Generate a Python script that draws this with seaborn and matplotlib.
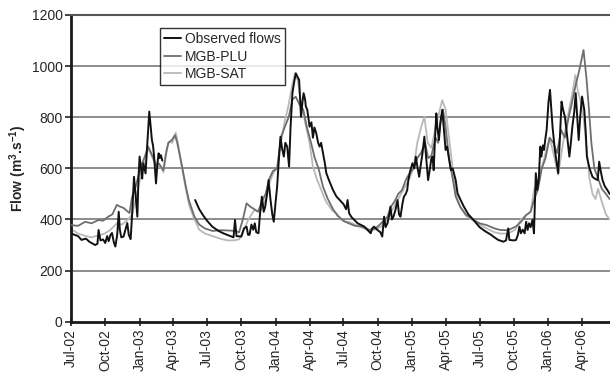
import numpy as np
import pandas as pd
import matplotlib
matplotlib.use("Agg")
import matplotlib.pyplot as plt
import matplotlib.dates as mdates
import seaborn as sns

# ---------------- data ----------------
obs_dates = ["2002-07-01","2002-07-10","2002-07-20","2002-07-29","2002-08-10","2002-08-20","2002-09-04","2002-09-10",
"2002-09-13","2002-09-18","2002-09-25","2002-10-01","2002-10-06","2002-10-10","2002-10-15","2002-10-19","2002-10-24",
"2002-10-28","2002-11-02","2002-11-06","2002-11-09","2002-11-13","2002-11-19","2002-11-24","2002-11-29","2002-12-03",
"2002-12-08","2002-12-12","2002-12-17","2002-12-21","2002-12-26","2002-12-29","2003-01-01","2003-01-05","2003-01-08",
"2003-01-11","2003-01-17","2003-01-21","2003-01-27","2003-01-31","2003-02-03","2003-02-06","2003-02-09","2003-02-14",
"2003-02-18","2003-02-21","2003-02-24","2003-02-27","2003-03-03",
"2003-05-30","2003-06-10","2003-06-21","2003-07-01","2003-07-15","2003-08-01","2003-08-15","2003-09-01","2003-09-10",
"2003-09-14","2003-09-18","2003-10-01","2003-10-08","2003-10-15","2003-10-19","2003-10-23","2003-10-28","2003-11-02",
"2003-11-06","2003-11-10","2003-11-16","2003-11-20","2003-11-25","2003-11-30","2003-12-04","2003-12-09","2003-12-13",
"2003-12-18","2003-12-23","2003-12-27","2004-01-01","2004-01-05","2004-01-09","2004-01-14","2004-01-18","2004-01-23",
"2004-01-27","2004-02-01","2004-02-06","2004-02-10","2004-02-15","2004-02-20","2004-02-24","2004-02-28","2004-03-04",
"2004-03-09","2004-03-13","2004-03-16","2004-03-20","2004-03-22","2004-03-26","2004-04-01","2004-04-06","2004-04-10",
"2004-04-14","2004-04-19","2004-04-24","2004-04-28","2004-05-02","2004-05-07","2004-05-12","2004-05-16","2004-05-24",
"2004-06-03","2004-06-12","2004-06-21","2004-07-01","2004-07-08","2004-07-12","2004-07-16","2004-07-22","2004-08-08",
"2004-08-26","2004-09-12","2004-09-16","2004-09-21","2004-09-30","2004-10-08","2004-10-13","2004-10-18","2004-10-22",
"2004-10-27","2004-11-01","2004-11-04","2004-11-08","2004-11-12","2004-11-18","2004-11-23","2004-11-27","2004-12-01",
"2004-12-06","2004-12-10","2004-12-15","2004-12-19","2004-12-22","2004-12-27","2005-01-02","2005-01-07","2005-01-11",
"2005-01-16","2005-01-20","2005-01-25","2005-01-29","2005-02-03","2005-02-08","2005-02-13","2005-02-18","2005-02-22",
"2005-02-25","2005-02-28","2005-03-03","2005-03-07","2005-03-10","2005-03-14","2005-03-18","2005-03-23","2005-03-27",
"2005-04-01","2005-04-05","2005-04-10","2005-04-15","2005-04-20","2005-04-28","2005-05-03","2005-05-10","2005-05-20",
"2005-06-01","2005-06-15","2005-07-01","2005-07-15","2005-08-01","2005-08-07","2005-08-20","2005-09-03","2005-09-10",
"2005-09-16","2005-09-19","2005-10-01","2005-10-07","2005-10-12","2005-10-16","2005-10-20","2005-10-25","2005-10-30",
"2005-11-03","2005-11-07","2005-11-11","2005-11-15","2005-11-20","2005-11-24","2005-11-29","2005-12-03","2005-12-07",
"2005-12-11","2005-12-14","2005-12-18","2005-12-21","2005-12-25","2005-12-28","2006-01-02","2006-01-06","2006-01-09",
"2006-01-13","2006-01-19","2006-01-24","2006-01-28","2006-02-01","2006-02-06","2006-02-10","2006-02-15","2006-02-20",
"2006-02-24","2006-02-27","2006-03-03","2006-03-07","2006-03-12","2006-03-16","2006-03-20","2006-03-24","2006-03-28",
"2006-04-02","2006-04-08","2006-04-12","2006-04-15","2006-04-22","2006-04-30","2006-05-06","2006-05-14","2006-05-18",
"2006-05-22","2006-05-27","2006-06-02","2006-06-09","2006-06-15"]
obs_vals = [346,340,335,320,325,312,300,305,
359,318,322,308,335,315,340,347,310,
294,340,430,360,330,333,360,386,340,
323,420,567,500,411,560,646,600,560,
620,580,680,822,760,711,690,646,541,
620,659,640,652,630,
476,440,415,395,372,355,345,335,330,
398,335,333,365,372,340,340,380,360,
385,350,346,420,489,430,450,500,554,
480,420,391,470,528,620,724,680,646,
700,685,607,760,894,940,972,960,946,
802,860,894,870,842,829,763,780,720,
760,737,700,685,700,659,620,581,550,
515,490,476,460,440,476,425,410,385,
372,346,365,372,359,350,333,411,370,
385,420,450,400,411,440,476,420,411,
460,489,500,515,554,590,620,600,646,
600,567,620,659,724,640,554,600,640,
646,593,700,815,760,711,780,829,760,
672,685,640,593,600,554,502,480,450,
420,398,370,355,340,333,320,313,318,
365,320,318,320,340,372,346,360,346,
391,359,385,370,398,346,581,515,560,
685,646,690,672,720,750,860,907,842,
760,672,620,581,700,861,830,802,740,
685,646,700,763,820,894,800,711,800,
881,829,740,646,600,567,560,554,626,
590,554,530,515,500]
obs_segment = [0]*49 + [1]*(len(obs_vals)-49)

plu_dates = ["2002-07-01","2002-07-20","2002-08-08","2002-08-25","2002-09-13","2002-09-25","2002-10-09","2002-10-20",
"2002-11-01","2002-11-10","2002-11-19","2002-12-05","2002-12-12","2002-12-20","2002-12-26","2003-01-01","2003-01-08",
"2003-01-16","2003-01-24","2003-02-01","2003-02-09","2003-02-15","2003-02-21","2003-03-06","2003-03-12","2003-03-19",
"2003-03-28","2003-04-06","2003-04-12","2003-04-25","2003-05-05","2003-05-13","2003-05-28","2003-06-10","2003-06-25",
"2003-07-16","2003-08-05","2003-08-25","2003-09-15","2003-09-25","2003-10-05","2003-10-15","2003-10-25","2003-11-05",
"2003-11-15","2003-11-25","2003-12-05","2003-12-15","2003-12-25","2004-01-05","2004-01-15","2004-01-25","2004-02-05",
"2004-02-15","2004-02-24","2004-03-05","2004-03-15","2004-03-25","2004-04-05","2004-04-15","2004-04-25","2004-05-07",
"2004-05-20","2004-06-03","2004-06-15","2004-07-01","2004-07-15","2004-08-01","2004-08-20","2004-09-10","2004-09-25",
"2004-10-10","2004-10-27","2004-11-05","2004-11-15","2004-11-25","2004-12-05","2004-12-15","2004-12-25","2005-01-05",
"2005-01-15","2005-01-25","2005-02-05","2005-02-13","2005-02-22","2005-03-05","2005-03-12","2005-03-20","2005-03-25",
"2005-04-01","2005-04-10","2005-04-20","2005-04-28","2005-05-10","2005-05-25","2005-06-15","2005-07-01","2005-07-20",
"2005-08-10","2005-08-25","2005-09-15","2005-10-06","2005-10-20","2005-11-03","2005-11-15","2005-11-25","2005-12-05",
"2005-12-15","2005-12-25","2006-01-05","2006-01-15","2006-01-25","2006-02-05","2006-02-15","2006-02-25","2006-03-05",
"2006-03-15","2006-03-25","2006-04-06","2006-04-14","2006-04-20","2006-04-27","2006-05-05","2006-05-15","2006-05-25",
"2006-06-05","2006-06-15"]
plu_vals = [378,375,391,385,398,395,411,420,
457,450,445,425,489,520,554,590,620,
650,685,660,633,610,620,593,650,700,
710,730,700,607,530,476,411,380,365,
355,358,357,355,350,400,463,450,440,
430,470,500,560,590,600,720,760,800,
870,880,850,830,760,700,640,600,528,
480,440,415,395,385,375,372,359,365,
385,411,450,470,500,515,554,580,600,
640,660,700,640,650,720,700,800,830,
760,640,560,490,450,420,398,385,378,
365,359,358,372,390,417,430,480,520,
600,640,720,700,660,750,720,800,850,
920,980,1063,950,841,700,600,560,520,
500,480]

sat_dates = ["2002-07-01","2002-07-20","2002-08-10","2002-08-25","2002-09-13","2002-09-30","2002-10-15","2002-11-01",
"2002-11-15","2002-12-01","2002-12-12","2002-12-25","2003-01-05","2003-01-15","2003-01-24","2003-02-05","2003-02-15",
"2003-02-25","2003-03-06","2003-03-15","2003-03-22","2003-03-30","2003-04-08","2003-04-15","2003-04-25","2003-05-05",
"2003-05-15","2003-05-30","2003-06-10","2003-06-25","2003-07-16","2003-08-05","2003-08-25","2003-09-10","2003-09-25",
"2003-10-05","2003-10-20","2003-11-05","2003-11-20","2003-12-05","2003-12-15","2003-12-25","2004-01-05","2004-01-15",
"2004-01-25","2004-02-05","2004-02-15","2004-02-22","2004-03-01","2004-03-10","2004-03-20","2004-04-01","2004-04-10",
"2004-04-20","2004-05-01","2004-05-15","2004-06-01","2004-06-12","2004-06-25","2004-07-05","2004-07-15","2004-08-01",
"2004-08-20","2004-09-10","2004-09-25","2004-10-10","2004-10-25","2004-11-10","2004-11-25","2004-12-10","2004-12-25",
"2005-01-05","2005-01-15","2005-01-25","2005-02-03","2005-02-12","2005-02-22","2005-03-05","2005-03-15","2005-03-23",
"2005-04-01","2005-04-10","2005-04-20","2005-04-28","2005-05-10","2005-05-25","2005-06-15","2005-07-01","2005-07-20",
"2005-08-10","2005-08-25","2005-09-15","2005-10-05","2005-10-20","2005-11-03","2005-11-15","2005-11-25","2005-12-05",
"2005-12-15","2005-12-25","2006-01-05","2006-01-15","2006-01-28","2006-02-10","2006-02-20","2006-03-01","2006-03-08",
"2006-03-15","2006-03-22","2006-03-30","2006-04-06","2006-04-14","2006-04-22","2006-04-30","2006-05-08","2006-05-15",
"2006-05-25","2006-06-05","2006-06-15"]
sat_vals = [362,345,335,330,338,345,360,385,
380,400,420,500,580,620,680,640,600,
610,585,680,705,700,740,690,600,520,
450,395,360,345,335,325,318,318,322,
350,400,437,430,480,540,580,600,700,
780,850,930,972,940,850,780,700,607,
560,520,470,435,424,400,390,391,380,
368,355,362,372,400,440,480,520,560,
600,700,760,802,700,680,760,820,867,
830,720,600,500,450,415,395,380,365,
350,345,345,360,400,417,430,520,554,
600,660,720,660,575,700,780,850,900,
965,900,860,800,680,560,500,480,520,
470,420,400]

series_names = ["Observed flows", "MGB-PLU", "MGB-SAT"]
series_colors = ["#111111", "#6e6e6e", "#b9b9b9"]
tick_labels_fmt = "%b-%y"

# ---------------- frames ----------------
obs = pd.DataFrame({"date": pd.to_datetime(obs_dates), "flow": obs_vals, "seg": obs_segment})
plu = pd.DataFrame({"date": pd.to_datetime(plu_dates), "flow": plu_vals})
sat = pd.DataFrame({"date": pd.to_datetime(sat_dates), "flow": sat_vals})

sns.set_style("white")
plt.rcParams["font.family"] = ["Liberation Sans", "DejaVu Sans"]
plt.rcParams["mathtext.fontset"] = "custom"
plt.rcParams["mathtext.rm"] = "Liberation Sans"
plt.rcParams["mathtext.bf"] = "Liberation Sans:bold"

fig = plt.figure(figsize=(6.10, 3.74), dpi=100)
ax = fig.add_axes([71/610, 1-321.7/374, 1-71/610, (321.7-15)/374])

for yv in [200, 400, 600, 800, 1000]:
    ax.axhline(yv, color="#8c8c8c", lw=1.4, zorder=0)

sns.lineplot(data=sat, x="date", y="flow", ax=ax, color=series_colors[2], lw=1.3,
             label=series_names[2], zorder=2)
sns.lineplot(data=plu, x="date", y="flow", ax=ax, color=series_colors[1], lw=1.3,
             label=series_names[1], zorder=3)
sns.lineplot(data=obs, x="date", y="flow", units="seg", estimator=None, ax=ax,
             color=series_colors[0], lw=1.4, label=series_names[0], zorder=4)

ax.set_ylim(0, 1200)
ax.set_yticks(np.arange(0, 1201, 200))
ax.set_xlim(pd.Timestamp("2002-07-01"), pd.Timestamp("2006-06-16"))
ax.xaxis.set_major_locator(mdates.MonthLocator(bymonth=[1, 4, 7, 10]))
ax.xaxis.set_major_formatter(mdates.DateFormatter(tick_labels_fmt))
for lab in ax.get_xticklabels():
    lab.set_rotation(90)

ax.tick_params(axis="y", which="major", direction="out", length=4, width=1.2,
               color="#222222", labelsize=10, pad=2, left=True)
ax.tick_params(axis="x", which="major", direction="inout", length=6, width=1.2,
               color="#222222", labelsize=10, pad=2, bottom=True)
ax.set_xlabel("")
ax.set_ylabel(r"Flow (m$^{\mathbf{3}}$.s$^{\mathbf{-1}}$)", fontsize=10, fontweight="bold")
ax.yaxis.set_label_coords(-0.078, 0.5)

for s in ["left", "bottom"]:
    ax.spines[s].set_color("#1a1a1a")
    ax.spines[s].set_linewidth(2.0)
ax.spines["top"].set_color("#555555")
ax.spines["top"].set_linewidth(1.5)
ax.spines["right"].set_visible(False)

handles, labels = ax.get_legend_handles_labels()
order = [labels.index(n) for n in series_names]
leg = ax.legend([handles[i] for i in order], [labels[i] for i in order],
                loc="upper left", bbox_to_anchor=((160-71)/539, (321.7-28)/306.7),
                frameon=True, fancybox=False, edgecolor="black", fontsize=10,
                handlelength=1.2, handletextpad=0.3, borderpad=0.3, labelspacing=0.25,
                borderaxespad=0)
leg.get_frame().set_linewidth(1.0)

fig.savefig("out.png", dpi=100)
